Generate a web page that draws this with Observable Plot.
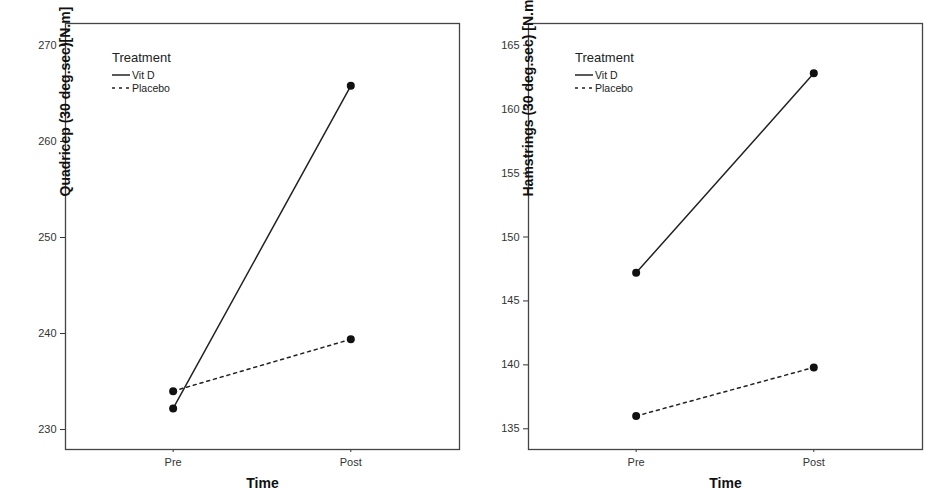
<!DOCTYPE html>
<html><head>
<script src="https://cdn.jsdelivr.net/npm/d3@7"></script>
<script src="https://cdn.jsdelivr.net/npm/@observablehq/plot@0.6"></script>
<style>
body{margin:0;background:#fff;font-family:Arial,"Liberation Sans",sans-serif}
#wrap{position:relative;width:945px;height:501px}
.panel{position:absolute;top:0}
.leg{position:absolute;font-size:12px;color:#222}
.leg .t{font-size:13px;margin-bottom:3px}
.leg .r{display:flex;align-items:center;font-size:10.5px;height:13px}
</style></head><body>
<div id="wrap"></div>
<script>
const times = ["Pre", "Post"];
const groups = ["Vit D", "Placebo"];
const quadVitD = [232.2, 265.8];
const quadPlacebo = [234.0, 239.4];
const hamVitD = [147.2, 162.8];
const hamPlacebo = [136.0, 139.8];
const quadTicks = [230, 240, 250, 260, 270];
const hamTicks = [135, 140, 145, 150, 155, 160, 165];

function rows(a, b) {
  const r = [];
  times.forEach((t, i) => { r.push({t: i, g: groups[0], v: a[i]}); r.push({t: i, g: groups[1], v: b[i]}); });
  return r;
}
function panel(data, yDomain, ticks, label, left) {
  const svg = Plot.plot({
    width: 472, height: 501,
    marginLeft: 65, marginRight: 13, marginTop: 23, marginBottom: 52,
    style: {fontFamily: "Arial, 'Liberation Sans', sans-serif", fontSize: "11px", color: "#333"},
    x: {domain: [-0.606, 1.612], ticks: [0, 1], tickFormat: i => times[i], tickSize: 3, label: null},
    y: {domain: yDomain, ticks, tickSize: 5, label: null},
    marks: [
      Plot.frame({stroke: "#444", strokeWidth: 1.3}),
      Plot.line(data.filter(d => d.g === "Vit D"), {x: "t", y: "v", stroke: "#222", strokeWidth: 1.5}),
      Plot.line(data.filter(d => d.g === "Placebo"), {x: "t", y: "v", stroke: "#222", strokeWidth: 1.5, strokeDasharray: "3,4"}),
      Plot.dot(data, {x: "t", y: "v", r: 4, fill: "#111"}),
      Plot.text([label], {frameAnchor: "left", dy: -40, rotate: -90, fontWeight: "bold", fontSize: 14, fill: "#111", text: d => d}),
      Plot.text(["Time"], {frameAnchor: "bottom", dy: 38, fontWeight: "bold", fontSize: 14, fill: "#111", text: d => d})
    ]
  });
  svg.classList.add("panel");
  svg.style.left = left + "px";
  document.getElementById("wrap").appendChild(svg);
  const leg = document.createElement("div");
  leg.className = "leg";
  leg.style.left = (left + 47 + 65) + "px";
  leg.style.top = "50px";
  leg.innerHTML = `<div class="t">Treatment</div>
   <div class="r"><svg width="20" height="4"><line x1="0" x2="18" y1="2" y2="2" stroke="#222" stroke-width="1.5"/></svg>${groups[0]}</div>
   <div class="r"><svg width="20" height="4"><line x1="0" x2="18" y1="2" y2="2" stroke="#222" stroke-width="1.5" stroke-dasharray="3,4"/></svg>${groups[1]}</div>`;
  document.getElementById("wrap").appendChild(leg);
}
panel(rows(quadVitD, quadPlacebo), [227.92, 272.29], quadTicks, "Quadricep (30 deg.sec)[N.m]", 0);
panel(rows(hamVitD, hamPlacebo), [133.38, 166.70], hamTicks, "Hamstrings (30 deg.sec) [N.m]", 463);
</script></body></html>
